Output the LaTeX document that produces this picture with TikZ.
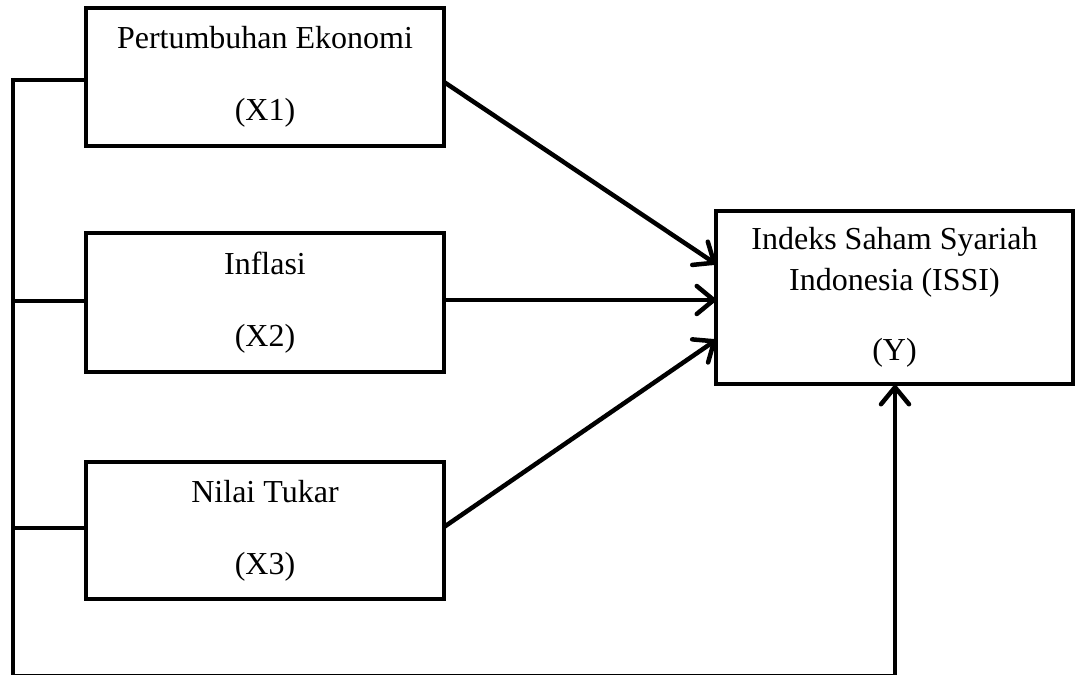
\documentclass[tikz,border=0pt]{standalone}
\usepackage{fontspec}
\setmainfont{Liberation Serif}
\usetikzlibrary{arrows.meta}
\begin{document}
\begin{tikzpicture}[x=1pt,y=-1pt,
  varbox/.style={draw,line width=4.5pt,inner sep=0pt,align=center,
    font=\fontsize{32}{72}\selectfont},
  conn/.style={line width=4.5pt},
  arr/.style={line width=4.5pt,-{Straight Barb[length=17pt,width=28pt,round]}}]
\useasboundingbox (0,0) rectangle (1075,674);
\node[varbox,minimum width=358pt,minimum height=138pt] (x1) at (265,77) {Pertumbuhan Ekonomi\\(X1)};
\node[varbox,minimum width=358pt,minimum height=139pt] (x2) at (265,302.5) {Inflasi\\(X2)};
\node[varbox,minimum width=358pt,minimum height=137pt] (x3) at (265,530.5) {Nilai Tukar\\(X3)};
\node[varbox,minimum width=357pt,minimum height=173pt,
  font=\fontsize{32}{41}\selectfont] (y) at (894.5,297.5) {Indeks Saham Syariah\\Indonesia (ISSI)\\[29pt](Y)};
% spine
\coordinate (top) at (13,78);
\coordinate (bl) at (13,676.4);
\coordinate (br) at (895,676.4);
\coordinate (yb) at (895,385);
\coordinate (h1) at (13,80);
\coordinate (h2) at (13,301);
\coordinate (h3) at (13,528);
\draw[conn] (top) -- (bl) -- (br);
\draw[arr] (br) -- (yb);
\draw[conn] (h1) -- (x1.west |- h1);
\draw[conn] (h2) -- (x2.west |- h2);
\draw[conn] (h3) -- (x3.west |- h3);
% arrows to Y
\coordinate (s1) at (444,82);
\coordinate (s2) at (444,300);
\coordinate (s3) at (444,527);
\coordinate (t1) at (716,264);
\coordinate (t2) at (716,300);
\coordinate (t3) at (716,340);
\draw[arr] (s1) -- (t1);
\draw[arr] (s2) -- (t2);
\draw[arr] (s3) -- (t3);
\end{tikzpicture}
\end{document}
